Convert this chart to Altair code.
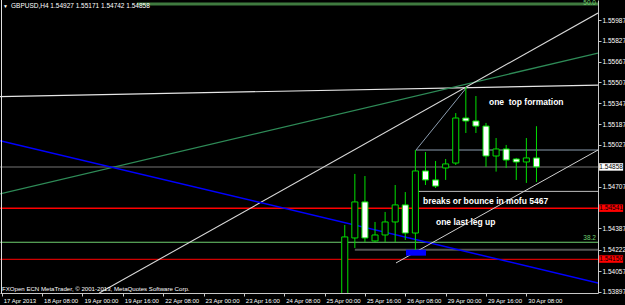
import altair as alt
import pandas as pd

# ---------------- data ----------------
bars   = list(range(34, 54))
opens  = [1.53700, 1.54312, 1.54589, 1.54289, 1.54335, 1.54435, 1.54566, 1.54350, 1.54827, 1.54758,
          1.54850, 1.54888, 1.55234, 1.55211, 1.55172, 1.54942, 1.54996, 1.54919, 1.54896, 1.54927]
highs  = [1.54412, 1.54804, 1.54788, 1.54435, 1.54512, 1.54719, 1.54665, 1.54988, 1.54973, 1.54904,
          1.54919, 1.55272, 1.55472, 1.55403, 1.55196, 1.55080, 1.55027, 1.54927, 1.55080, 1.55171]
lows   = [1.53650, 1.54235, 1.54281, 1.54281, 1.54281, 1.54281, 1.54297, 1.54220, 1.54719, 1.54696,
          1.54758, 1.54873, 1.55119, 1.55119, 1.54858, 1.54822, 1.54850, 1.54758, 1.54735, 1.54742]
closes = [1.54320, 1.54589, 1.54312, 1.54335, 1.54435, 1.54566, 1.54350, 1.54827, 1.54758, 1.54711,
          1.54881, 1.55234, 1.55211, 1.55172, 1.54942, 1.54996, 1.54911, 1.54896, 1.54927, 1.54858]

# trend lines (bar index / price at both ends)
tl_b1 = [-0.17, -0.17, 9.67, -0.17, 41.06, 39.08]
tl_p1 = [1.55398, 1.54650, 1.53889, 1.55060, 1.54988, 1.54120]
tl_b2 = [59.1, 59.1, 59.1, 59.1, 46.11, 59.1]
tl_p2 = [1.55487, 1.55733, 1.56041, 1.53966, 1.55472, 1.54988]
tl_colors = ["#e6e6e6", "#2e8b57", "#d8d8d8", "#0000ff", "#8c9db0", "#d0d0d0"]
tl_widths = [1.2, 1.3, 1.1, 1.5, 1.0, 1.0]

# horizontal levels
hl_price = [1.54858, 1.54541, 1.54279, 1.54148, 1.54222, 1.54988, 1.54670, 1.56110]
hl_start = [-0.17, -0.17, -0.17, -0.17, 35.0, 41.06, 41.06, 13.4]
hl_colors = ["#3a3a3a", "#ff0000", "#6fcf6f", "#d00000", "#555555", "#8c9db0", "#bdbdbd", "#3f7a3f"]
hl_widths = [2.0, 1.5, 1.1, 1.2, 2.0, 1.0, 1.0, 3.0]
x_end = 59.1

# blue box
box_b = [40.07]
box_b2 = [42.05]
box_p = [1.54222]
box_p2 = [1.54176]

# annotations
ann_text = ["one\u00a0 top formation", "breaks or bounce in mofu 5467", "one last leg up"]
ann_b = [48.29, 41.75, 43.04]
ann_p = [1.55359, 1.54598, 1.54437]

# fibo labels
fib_text = ["38.2", "50.0"]
fib_b = [58.9, 58.9]
fib_p = [1.54312, 1.56118]

# price tags on the axis
tag_price = [1.54858, 1.54541, 1.54150]
tag_text = ["1.54858", "1.54541", "1.54150"]
tag_fill = ["#ffffff", "#ff0000", "#ff0000"]
tag_b = 60.4

x_ticks = list(range(0, 53, 4))
x_labels = ["17 Apr 2013", "18 Apr 08:00", "19 Apr 00:00", "19 Apr 16:00", "22 Apr 08:00",
            "23 Apr 00:00", "23 Apr 16:00", "24 Apr 08:00", "25 Apr 00:00", "25 Apr 16:00",
            "26 Apr 08:00", "29 Apr 00:00", "29 Apr 16:00", "30 Apr 08:00"]
y_ticks = [1.55987, 1.55827, 1.55667, 1.55507, 1.55347, 1.55187, 1.55027,
           1.54707, 1.54387, 1.54222, 1.54057, 1.53897]

title_text = "GBPUSD,H4  1.54927 1.55171 1.54742 1.54858"
copyright_text = "FXOpen ECN MetaTrader, \u00a9 2001-2013, MetaQuotes Software Corp."

# ---------------- scales / axes ----------------
FONT = "Liberation Sans"
x_scale = alt.Scale(domain=[-0.17, 59.1], nice=False, zero=False)
y_scale = alt.Scale(domain=[1.53889, 1.56141], nice=False, zero=False)
label_expr = "[" + ",".join("'%s'" % s for s in x_labels) + "][round(datum.value/4)]"
x_axis = alt.Axis(values=x_ticks, labelExpr=label_expr, title=None, grid=False,
                  labelColor="#ffffff", labelFont=FONT, labelFontSize=6, labelAlign="left",
                  labelOffset=1.5, labelPadding=1, labelFlush=False, labelOverlap=False,
                  tickColor="#c8c8c8", tickSize=3, domainColor="#c8c8c8", labelBaseline="top")
y_axis = alt.Axis(values=y_ticks, format=".5f", orient="right", title=None, grid=False,
                  labelColor="#ffffff", labelFont=FONT, labelFontSize=6.5, labelPadding=1,
                  labelOverlap=False, labelFlush=False, tickColor="#c8c8c8", tickSize=3,
                  domainColor="#c8c8c8")


def X(f):
    return alt.X(f, type="quantitative", scale=x_scale, axis=x_axis)


def Y(f):
    return alt.Y(f, type="quantitative", scale=y_scale, axis=y_axis)


layers = []

# horizontal levels
for p, s, c, w in zip(hl_price, hl_start, hl_colors, hl_widths):
    d = pd.DataFrame({"b1": [s], "b2": [x_end], "p": [p]})
    layers.append(alt.Chart(d).mark_rule(color=c, strokeWidth=w, clip=True).encode(
        x=X("b1"), x2="b2", y=Y("p")))

# trend lines
for b1, p1, b2, p2, c, w in zip(tl_b1, tl_p1, tl_b2, tl_p2, tl_colors, tl_widths):
    d = pd.DataFrame({"b1": [b1], "p1": [p1], "b2": [b2], "p2": [p2]})
    layers.append(alt.Chart(d).mark_rule(color=c, strokeWidth=w, clip=True).encode(
        x=X("b1"), y=Y("p1"), x2="b2", y2="p2"))

# blue box
bdf = pd.DataFrame({"b1": box_b, "b2": box_b2, "p1": box_p, "p2": box_p2})
layers.append(alt.Chart(bdf).mark_rect(color="#0000ff", clip=True).encode(
    x=X("b1"), x2="b2", y=Y("p1"), y2="p2"))

# left border
layers.append(alt.Chart(pd.DataFrame({"b": [0.0]})).mark_rule(color="#e0e0e0", strokeWidth=1).encode(
    x=alt.value(1.5), y=alt.value(0), y2=alt.value(293)))

# candles
cdf = pd.DataFrame({"b": bars, "open": opens, "high": highs, "low": lows, "close": closes})
base = alt.Chart(cdf).transform_calculate(
    bl="datum.b - 0.3", br="datum.b + 0.3",
    dir="datum.close > datum.open ? 'bull' : 'bear'")
wicks = base.mark_rule(color="#00e000", strokeWidth=1, clip=True).encode(
    x=X("b"), y=Y("low"), y2="high")
bodies = base.mark_rect(stroke="#00e000", strokeWidth=1, clip=True).encode(
    x=X("bl"), x2="br", y=Y("open"), y2="close",
    fill=alt.Fill("dir:N", scale=alt.Scale(domain=["bull", "bear"], range=["#000000", "#ffffff"]),
                  legend=None))
layers += [wicks, bodies]

# annotations
adf = pd.DataFrame({"t": ann_text, "b": ann_b, "p": ann_p})
layers.append(alt.Chart(adf).mark_text(color="#ffffff", font=FONT, fontSize=8.5, fontWeight="bold",
                                       align="left", baseline="middle").encode(
    x=X("b"), y=Y("p"), text="t:N"))

# fibo labels
fdf = pd.DataFrame({"t": fib_text, "b": fib_b, "p": fib_p})
layers.append(alt.Chart(fdf).mark_text(color="#6fcf6f", font=FONT, fontSize=6.5,
                                       align="right", baseline="middle").encode(
    x=X("b"), y=Y("p"), text="t:N"))

# price tags
tdf = pd.DataFrame({"p": tag_price, "t": tag_text, "f": tag_fill, "b": [tag_b] * 3})
layers.append(alt.Chart(tdf).mark_point(
    shape="M-1,-0.3125L1,-0.3125L1,0.3125L-1,0.3125Z", size=576, filled=True, opacity=1,
    strokeWidth=0).encode(
    x=X("b"), y=Y("p"), fill=alt.Fill("f:N", scale=None)))
layers.append(alt.Chart(tdf).mark_text(color="#000000", font=FONT, fontSize=6.5,
                                       align="center", baseline="middle").encode(
    x=X("b"), y=Y("p"), text="t:N"))

# title and copyright (window chrome)
layers.append(alt.Chart(pd.DataFrame({"t": ["\u25bc"]})).mark_text(
    color="#ffffff", font=FONT, fontSize=5, align="left", baseline="middle").encode(
    x=alt.value(3), y=alt.value(6), text="t:N"))
layers.append(alt.Chart(pd.DataFrame({"t": [title_text]})).mark_text(
    color="#ffffff", font=FONT, fontSize=6.5, align="left", baseline="middle").encode(
    x=alt.value(11), y=alt.value(6), text="t:N"))
layers.append(alt.Chart(pd.DataFrame({"t": [copyright_text]})).mark_text(
    color="#ffffff", font=FONT, fontSize=6.1, align="left", baseline="middle").encode(
    x=alt.value(2), y=alt.value(289), text="t:N"))

chart = alt.layer(*layers).properties(
    width=598, height=293,
    autosize=alt.AutoSizeParams(type="none"),
    padding={"left": 0, "top": 0, "right": 27, "bottom": 12},
    background="#000000",
).configure_view(strokeWidth=0, fill="#000000")

chart.save("out.html", embed_options={"renderer": "svg", "actions": False})
